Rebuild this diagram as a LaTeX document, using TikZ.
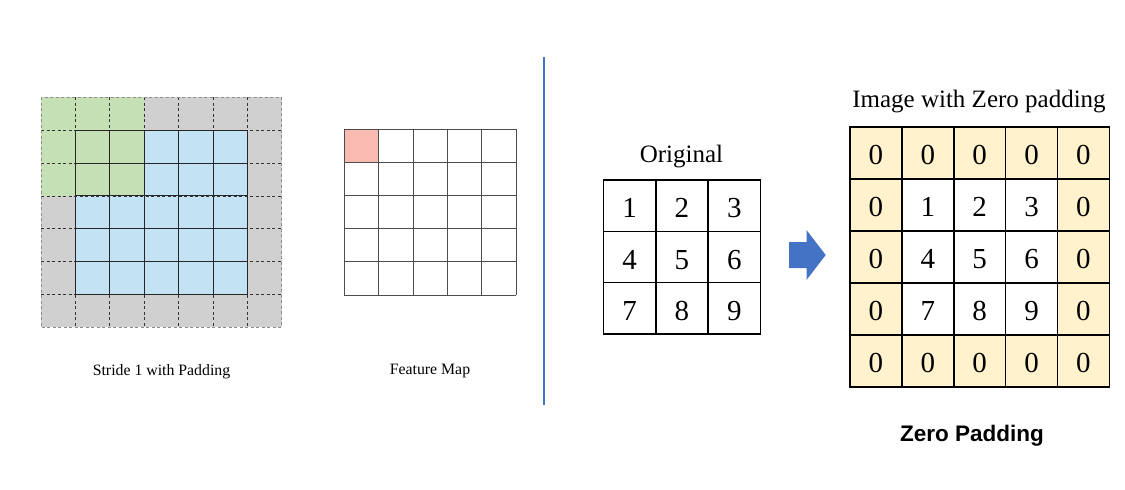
\documentclass[tikz,border=0pt]{standalone}
\usepackage{fontspec}
\setmainfont{Liberation Serif}
\newfontfamily\sansb{Liberation Sans}
\definecolor{gridgreen}{HTML}{C5E0B4}
\definecolor{gridblue}{HTML}{C3E2F4}
\definecolor{gridgrey}{HTML}{D0D0D0}
\definecolor{fmpink}{HTML}{F9BBB1}
\definecolor{padyellow}{HTML}{FFF2CC}
\definecolor{accentblue}{HTML}{4472C4}
\begin{document}
\begin{tikzpicture}[x=1pt,y=-1pt,
  dashline/.style={draw=black!80, dashed, dash pattern=on 3pt off 2.5pt, line width=0.7pt},
  outerdash/.style={draw=black!45, dash pattern=on 3pt off 2.5pt, line width=0.8pt},
  innerline/.style={draw=black!85, line width=0.8pt},
  fmline/.style={draw=black!70, line width=0.8pt},
  numcell/.style={draw=black, line width=1.6pt, minimum width=52.4pt, minimum height=51.3pt, inner sep=0pt, text height=24pt, text depth=0pt, font=\fontsize{29}{29}\selectfont},
  zcell/.style={draw=black, line width=1.6pt, minimum width=51.9pt, minimum height=52pt, inner sep=0pt, text height=24pt, text depth=0pt, font=\fontsize{29}{29}\selectfont},
  title/.style={font=\fontsize{25}{25}\selectfont, inner sep=0pt},
  caption/.style={font=\fontsize{15.8}{15.8}\selectfont, inner sep=0pt}
]
\path[use as bounding box] (0,0) rectangle (1125,490);

% ---------- Left: stride 1 with padding ----------
\def\lx{41}\def\ly{97.3}\def\lcw{34.4}\def\lch{32.86}
\fill[gridgrey] (\lx,\ly) rectangle ({\lx+7*\lcw},{\ly+7*\lch});
\fill[gridblue] ({\lx+\lcw},{\ly+\lch}) rectangle ({\lx+6*\lcw},{\ly+6*\lch});
\fill[gridgreen] (\lx,\ly) rectangle ({\lx+3*\lcw},{\ly+3*\lch});
\foreach \i in {1,...,6}{
  \draw[dashline] ({\lx+\i*\lcw},\ly) -- ({\lx+\i*\lcw},{\ly+7*\lch});
  \draw[dashline] (\lx,{\ly+\i*\lch}) -- ({\lx+7*\lcw},{\ly+\i*\lch});
}
\foreach \i in {1,...,6}{
  \draw[innerline] ({\lx+\i*\lcw},{\ly+\lch}) -- ({\lx+\i*\lcw},{\ly+6*\lch});
  \draw[innerline] ({\lx+\lcw},{\ly+\i*\lch}) -- ({\lx+6*\lcw},{\ly+\i*\lch});
}
\draw[outerdash] (\lx,\ly) rectangle ({\lx+7*\lcw},{\ly+7*\lch});
\node[caption] (stridelbl) at (161.5,371.5) {Stride 1 with Padding};

% ---------- Feature map ----------
\def\fx{344.3}\def\fy{129.3}\def\fcw{34.34}\def\fch{33.14}
\fill[fmpink] (\fx,\fy) rectangle ({\fx+\fcw},{\fy+\fch});
\foreach \i in {0,...,5}{
  \draw[fmline] ({\fx+\i*\fcw},\fy) -- ({\fx+\i*\fcw},{\fy+5*\fch});
  \draw[fmline] (\fx,{\fy+\i*\fch}) -- ({\fx+5*\fcw},{\fy+\i*\fch});
}
\node[caption] (fmlbl) at (430,371.5) {Feature Map};

% ---------- Divider ----------
\coordinate (divtop) at (544,57);
\coordinate (divbot) at (544,405);
\draw[accentblue, line width=2.4pt] (divtop) -- (divbot);

% ---------- Original ----------
\node[title] (origlbl) at (681.5,157) {Original};
\foreach \r in {0,1,2}{
  \foreach \c in {0,1,2}{
    \pgfmathtruncatemacro{\v}{3*\r+\c+1}
    \node[numcell, fill=white] (o-\r-\c) at ({603.3+26.2+\c*52.45},{180+25.67+\r*51.33}) {\v};
  }
}

% ---------- Block arrow ----------
\fill[accentblue] (789,242) -- (806.5,242) -- (806.5,230) -- (825.7,255) -- (806.5,280) -- (806.5,268) -- (789,268) -- cycle;

% ---------- Zero padded ----------
\node[title] (zplbl) at (979,102) {Image with Zero padding};
\foreach \r in {0,...,4}{
  \foreach \c in {0,...,4}{
    \pgfmathtruncatemacro{\inner}{(\r>0)&&(\r<4)&&(\c>0)&&(\c<4)}
    \ifnum\inner=1
      \pgfmathtruncatemacro{\v}{3*(\r-1)+\c}
      \node[zcell, fill=white] (z-\r-\c) at ({850+25.95+\c*51.86},{126.7+26+\r*52}) {\v};
    \else
      \node[zcell, fill=padyellow] (z-\r-\c) at ({850+25.95+\c*51.86},{126.7+26+\r*52}) {0};
    \fi
  }
}
\node[font=\sansb\bfseries\fontsize{22.5}{22.5}\selectfont, inner sep=0pt] (zerolbl) at (972,436) {Zero Padding};
\end{tikzpicture}
\end{document}
